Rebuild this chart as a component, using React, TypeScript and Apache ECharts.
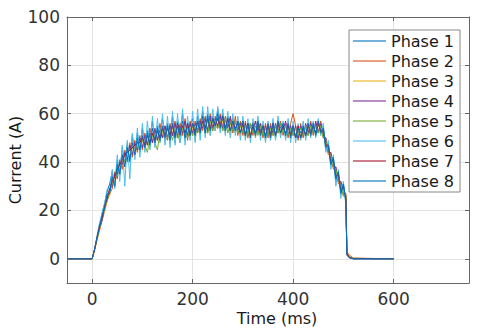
import React, { useEffect, useRef } from "react";
import * as echarts from "echarts";

const time = [
  -50,
  0, 5, 10, 15, 20, 25, 30, 35, 40, 45,
  50, 55, 60, 65, 70, 75, 80, 85, 90, 95,
  100, 105, 110, 115, 120, 125, 130, 135, 140, 145,
  150, 155, 160, 165, 170, 175, 180, 185, 190, 195,
  200, 205, 210, 215, 220, 225, 230, 235, 240, 245,
  250, 255, 260, 265, 270, 275, 280, 285, 290, 295,
  300, 305, 310, 315, 320, 325, 330, 335, 340, 345,
  350, 355, 360, 365, 370, 375, 380, 385, 390, 395,
  400, 405, 410, 415, 420, 425, 430, 435, 440, 445,
  450, 455, 460, 465, 470, 475, 480, 485, 490, 495,
  500, 505,
  507, 512, 520, 600,
];

const phase1 = [
  0,
  0, 4, 9, 14, 19, 23, 28, 31, 36, 30,
  41, 35, 46, 39, 48, 40, 51, 43, 52, 44,
  54, 46, 53, 50, 57, 47, 55, 52, 58, 49,
  56, 50, 59, 48, 57, 53, 60, 49, 56, 55,
  58, 51, 59, 55, 61, 52, 60, 57, 59, 53,
  62, 55, 60, 53, 59, 56, 58, 52, 57, 55,
  57, 51, 56, 54, 55, 51, 57, 53, 55, 50,
  55, 52, 56, 50, 57, 54, 55, 51, 56, 52,
  55, 50, 54, 52, 55, 51, 56, 53, 55, 52,
  57, 52, 55, 45, 48, 39, 42, 32, 36, 27,
  31, 23,
  2, 0.5, 0, 0,
];
const phase2 = [
  0,
  0, 4, 8, 12, 16, 20, 24, 27, 29, 36,
  33, 41, 37, 45, 40, 48, 42, 49, 44, 51,
  45, 52, 47, 54, 48, 53, 49, 56, 50, 55,
  49, 56, 51, 57, 50, 56, 51, 58, 49, 57,
  51, 57, 52, 58, 53, 59, 52, 60, 53, 59,
  54, 60, 53, 59, 55, 58, 52, 59, 51, 57,
  51, 57, 50, 56, 51, 57, 52, 56, 50, 56,
  50, 56, 51, 55, 52, 57, 51, 56, 50, 56,
  60, 55, 49, 56, 50, 55, 51, 57, 51, 56,
  52, 57, 50, 50, 43, 44, 37, 38, 31, 32,
  26, 27,
  3, 1.5, 0.3, 0,
];
const phase3 = [
  0,
  0, 3, 9, 12, 18, 20, 26, 26, 33, 30,
  38, 35, 42, 39, 45, 42, 47, 44, 49, 45,
  50, 45, 51, 46, 52, 47, 53, 48, 54, 49,
  54, 48, 55, 49, 54, 50, 55, 49, 56, 50,
  55, 49, 56, 51, 57, 52, 58, 51, 58, 53,
  59, 53, 58, 52, 58, 51, 57, 52, 56, 51,
  56, 50, 55, 51, 56, 50, 56, 51, 55, 49,
  55, 49, 56, 50, 56, 51, 56, 50, 55, 51,
  55, 50, 54, 49, 55, 50, 55, 51, 56, 51,
  56, 51, 54, 46, 47, 40, 41, 34, 35, 28,
  30, 26,
  2.5, 1, 0.2, 0,
];
const phase4 = [
  0,
  0, 4, 9, 13, 16, 22, 25, 29, 30, 35,
  35, 40, 39, 44, 41, 47, 43, 48, 45, 50,
  46, 51, 47, 52, 48, 54, 49, 53, 50, 55,
  50, 55, 51, 56, 51, 55, 52, 57, 51, 56,
  52, 56, 53, 57, 54, 58, 53, 59, 54, 58,
  55, 59, 54, 58, 54, 59, 53, 57, 53, 56,
  52, 56, 51, 56, 52, 57, 53, 56, 51, 55,
  51, 55, 52, 56, 52, 56, 53, 57, 51, 55,
  51, 55, 50, 55, 51, 56, 52, 56, 52, 57,
  52, 56, 51, 50, 44, 44, 38, 38, 32, 32,
  27, 26,
  1.5, 0.4, 0, 0,
];
const phase5 = [
  0,
  0, 4, 8, 13, 17, 21, 24, 28, 31, 32,
  37, 37, 41, 40, 45, 42, 46, 44, 48, 45,
  49, 47, 44, 50, 51, 48, 45, 52, 53, 49,
  50, 53, 49, 54, 52, 48, 55, 51, 50, 54,
  51, 55, 53, 52, 57, 53, 52, 57, 53, 55,
  54, 57, 53, 58, 52, 56, 53, 57, 52, 55,
  52, 55, 51, 56, 52, 55, 51, 55, 51, 54,
  51, 54, 51, 55, 52, 56, 52, 55, 51, 54,
  51, 54, 51, 54, 51, 55, 51, 55, 52, 55,
  52, 55, 50, 49, 44, 43, 38, 37, 32, 31,
  26, 26,
  2, 0.8, 0.2, 0,
];
const phase6 = [
  0,
  0, 4, 10, 15, 19, 23, 29, 28, 37, 29,
  43, 32, 47, 30, 49, 33, 52, 41, 54, 42,
  56, 44, 57, 45, 59, 46, 58, 48, 60, 47,
  59, 46, 61, 47, 60, 48, 62, 47, 59, 49,
  61, 48, 62, 49, 63, 50, 63, 51, 62, 53,
  63, 52, 62, 51, 61, 50, 60, 51, 59, 49,
  59, 49, 58, 48, 58, 50, 59, 49, 57, 48,
  57, 49, 58, 49, 59, 50, 57, 49, 58, 48,
  57, 48, 56, 49, 57, 49, 58, 50, 57, 50,
  58, 51, 56, 44, 49, 37, 43, 30, 37, 25,
  32, 22,
  1.8, 0.5, 0, 0,
];
const phase7 = [
  0,
  0, 4, 9, 14, 17, 22, 25, 29, 32, 34,
  37, 39, 41, 43, 44, 45, 46, 47, 48, 48,
  50, 47, 51, 48, 52, 49, 53, 50, 54, 51,
  54, 51, 55, 51, 56, 52, 55, 52, 56, 51,
  56, 52, 57, 53, 57, 54, 58, 54, 58, 55,
  58, 55, 59, 54, 58, 53, 57, 54, 56, 52,
  56, 51, 56, 51, 55, 52, 56, 52, 55, 51,
  55, 51, 56, 51, 56, 52, 55, 52, 55, 51,
  55, 50, 55, 50, 54, 51, 55, 52, 55, 52,
  56, 53, 53, 47, 47, 40, 41, 34, 35, 28,
  30, 25,
  2.2, 0.6, 0.1, 0,
];
const phase8 = [
  0,
  0, 4, 9, 13, 18, 21, 27, 27, 34, 30,
  39, 35, 43, 38, 46, 41, 48, 43, 50, 45,
  51, 46, 52, 47, 54, 48, 54, 49, 55, 50,
  55, 49, 56, 50, 55, 51, 57, 50, 55, 51,
  56, 51, 57, 52, 59, 52, 59, 53, 58, 55,
  60, 54, 59, 53, 58, 53, 57, 53, 57, 52,
  57, 51, 56, 50, 56, 51, 57, 51, 55, 50,
  56, 50, 56, 51, 57, 52, 56, 51, 56, 50,
  55, 50, 54, 50, 55, 51, 56, 51, 56, 51,
  57, 52, 54, 46, 47, 39, 42, 33, 36, 27,
  31, 24,
  1.6, 0.4, 0, 0,
];

const seriesNames = ["Phase 1", "Phase 2", "Phase 3", "Phase 4", "Phase 5", "Phase 6", "Phase 7", "Phase 8"];
const seriesValues = [phase1, phase2, phase3, phase4, phase5, phase6, phase7, phase8];
const colors = ["#0072BD", "#D95319", "#EDB120", "#7E2F8E", "#77AC30", "#4DBEEE", "#A2142F", "#0072BD"];

const xTicks = [0, 200, 400, 600];
const yTicks = [0, 20, 40, 60, 80, 100];

const FONT = "DejaVu Sans";

export default function App() {
  const ref = useRef<HTMLDivElement>(null);
  useEffect(() => {
    if (!ref.current) return;
    const chart = echarts.init(ref.current, null, { renderer: "svg" });
    const axisLineStyle = { color: "#666", width: 1 };
    const splitLineStyle = { color: "#e3e3e3", width: 1 };
    chart.setOption({
      animation: false,
      backgroundColor: "#fff",
      color: colors,
      grid: { left: 67, top: 17, right: 11, bottom: 49, containLabel: false },
      xAxis: [
        {
          type: "value",
          min: -50,
          max: 750,
          axisLine: { show: true, onZero: false, lineStyle: axisLineStyle },
          axisTick: { show: true, inside: true, length: 4, customValues: xTicks, lineStyle: axisLineStyle },
          axisLabel: { customValues: xTicks, fontSize: 17, lineHeight: 16, fontFamily: FONT, color: "#333", margin: 8 },
          splitLine: { show: true, lineStyle: splitLineStyle },
        },
        {
          type: "value",
          position: "top",
          min: -50,
          max: 750,
          axisLine: { show: true, onZero: false, lineStyle: axisLineStyle },
          axisTick: { show: true, inside: true, length: 4, customValues: xTicks, lineStyle: axisLineStyle },
          axisLabel: { show: false },
          splitLine: { show: false },
        },
      ],
      yAxis: [
        {
          type: "value",
          min: -10,
          max: 100,
          axisLine: { show: true, onZero: false, lineStyle: axisLineStyle },
          axisTick: { show: true, inside: true, length: 4, customValues: yTicks, lineStyle: axisLineStyle },
          axisLabel: { customValues: yTicks, fontSize: 17, fontFamily: FONT, color: "#333", margin: 7 },
          splitLine: { show: true, lineStyle: splitLineStyle },
        },
        {
          type: "value",
          position: "right",
          min: -10,
          max: 100,
          axisLine: { show: true, onZero: false, lineStyle: axisLineStyle },
          axisTick: { show: true, inside: true, length: 4, customValues: yTicks, lineStyle: axisLineStyle },
          axisLabel: { show: false },
          splitLine: { show: false },
        },
      ],
      legend: {
        orient: "vertical",
        left: 349,
        top: 30,
        padding: [1, 6, 1, 4],
        itemGap: 0,
        itemWidth: 33,
        itemHeight: 2,
        icon: "rect",
        itemStyle: { opacity: 0.55 },
        borderColor: "#888",
        borderWidth: 1,
        borderRadius: 0,
        backgroundColor: "#fff",
        textStyle: { fontSize: 16, lineHeight: 20, fontFamily: FONT, color: "#1a1a1a" },
        data: seriesNames,
      },
      graphic: [
        {
          type: "text",
          x: 277,
          y: 310,
          style: { text: "Time (ms)", fontSize: 16, lineHeight: 16, fontFamily: FONT, fill: "#1a1a1a", align: "center", verticalAlign: "top" },
        },
        {
          type: "text",
          x: 15,
          y: 160,
          rotation: Math.PI / 2,
          style: { text: "Current (A)", fontSize: 16, fontFamily: FONT, fill: "#1a1a1a", align: "center", verticalAlign: "middle" },
        },
      ],
      series: seriesNames.map((name, i) => ({
        name,
        type: "line",
        symbol: "none",
        xAxisIndex: 0,
        yAxisIndex: 0,
        lineStyle: { width: 1, color: colors[i] },
        itemStyle: { color: colors[i] },
        data: time.map((t, k) => [t, seriesValues[i][k]]),
      })),
    });
    return () => chart.dispose();
  }, []);
  return (
    <div
      ref={ref}
      style={{ position: "absolute", left: 0, top: 0, width: 480, height: 332, background: "#fff" }}
    />
  );
}
